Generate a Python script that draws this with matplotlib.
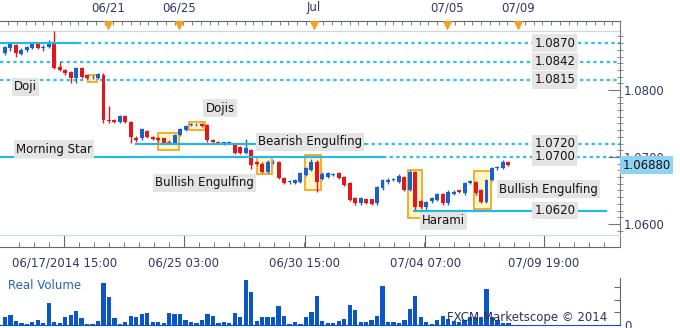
import numpy as np
import matplotlib.pyplot as plt
from matplotlib.patches import Rectangle
from matplotlib.ticker import MultipleLocator, FixedLocator, FuncFormatter
from matplotlib.transforms import blended_transform_factory

plt.rcParams["font.family"] = "DejaVu Sans"

# EUR/CHF-style 4H candles (oldest first)
opens = [
    1.0855, 1.0862, 1.0867, 1.0854, 1.0859, 1.0863, 1.0868, 1.0863, 1.0864, 1.0869,
    1.0834, 1.0830, 1.0827, 1.0818, 1.0833, 1.0822, 1.0819, 1.0818, 1.0823, 1.0755,
    1.0755, 1.0752, 1.0761, 1.0752, 1.0728, 1.0728, 1.0739, 1.0730, 1.0728, 1.0728,
    1.0723, 1.0721, 1.0733, 1.0740, 1.0748, 1.0749, 1.0749, 1.0748, 1.0725, 1.0723,
    1.0720, 1.0721, 1.0718, 1.0715, 1.0706, 1.0710, 1.0692, 1.0690, 1.0678, 1.0692,
    1.0693, 1.0669, 1.0662, 1.0661, 1.0663, 1.0673, 1.0681, 1.0693, 1.0667, 1.0670,
    1.0673, 1.0676, 1.0670, 1.0661, 1.0639, 1.0631, 1.0637, 1.0637, 1.0631, 1.0653,
    1.0662, 1.0666, 1.0663, 1.0670, 1.0651, 1.0678, 1.0634, 1.0625, 1.0634, 1.0636,
    1.0645, 1.0631, 1.0645, 1.0650, 1.0646, 1.0661, 1.0663, 1.0651, 1.0633, 1.0666,
    1.0683, 1.0684, 1.0693]
closes = [
    1.0864, 1.0868, 1.0855, 1.0860, 1.0864, 1.0868, 1.0863, 1.0864, 1.0870, 1.0833,
    1.0830, 1.0825, 1.0818, 1.0833, 1.0820, 1.0818, 1.0820, 1.0824, 1.0755, 1.0753,
    1.0752, 1.0761, 1.0752, 1.0730, 1.0725, 1.0742, 1.0730, 1.0727, 1.0725, 1.0721,
    1.0721, 1.0733, 1.0742, 1.0746, 1.0749, 1.0749, 1.0746, 1.0725, 1.0722, 1.0721,
    1.0722, 1.0723, 1.0706, 1.0706, 1.0713, 1.0688, 1.0690, 1.0678, 1.0693, 1.0693,
    1.0669, 1.0661, 1.0664, 1.0666, 1.0676, 1.0684, 1.0693, 1.0663, 1.0675, 1.0676,
    1.0674, 1.0669, 1.0658, 1.0636, 1.0631, 1.0639, 1.0632, 1.0630, 1.0655, 1.0666,
    1.0666, 1.0666, 1.0672, 1.0651, 1.0678, 1.0625, 1.0626, 1.0633, 1.0639, 1.0645,
    1.0631, 1.0648, 1.0648, 1.0648, 1.0661, 1.0664, 1.0646, 1.0633, 1.0666, 1.0684,
    1.0685, 1.0693, 1.0688]
highs = [
    1.0866, 1.0872, 1.0869, 1.0862, 1.0865, 1.0870, 1.0870, 1.0867, 1.0874, 1.0888,
    1.0842, 1.0831, 1.0828, 1.0834, 1.0834, 1.0823, 1.0822, 1.0825, 1.0826, 1.0776,
    1.0756, 1.0762, 1.0762, 1.0753, 1.0731, 1.0743, 1.0741, 1.0732, 1.0730, 1.0729,
    1.0725, 1.0734, 1.0743, 1.0748, 1.0751, 1.0751, 1.0750, 1.0749, 1.0727, 1.0724,
    1.0723, 1.0724, 1.0719, 1.0716, 1.0727, 1.0712, 1.0694, 1.0692, 1.0695, 1.0695,
    1.0694, 1.0670, 1.0665, 1.0667, 1.0677, 1.0685, 1.0697, 1.0695, 1.0677, 1.0678,
    1.0676, 1.0677, 1.0671, 1.0662, 1.0640, 1.0640, 1.0638, 1.0638, 1.0656, 1.0667,
    1.0668, 1.0668, 1.0674, 1.0671, 1.0680, 1.0679, 1.0636, 1.0635, 1.0641, 1.0647,
    1.0646, 1.0650, 1.0650, 1.0651, 1.0662, 1.0666, 1.0664, 1.0652, 1.0667, 1.0685,
    1.0687, 1.0695, 1.0694]
lows = [
    1.0852, 1.0858, 1.0849, 1.0852, 1.0857, 1.0861, 1.0861, 1.0858, 1.0862, 1.0831,
    1.0828, 1.0823, 1.0810, 1.0810, 1.0818, 1.0816, 1.0816, 1.0816, 1.0750, 1.0750,
    1.0750, 1.0750, 1.0750, 1.0721, 1.0723, 1.0726, 1.0728, 1.0725, 1.0723, 1.0719,
    1.0719, 1.0719, 1.0731, 1.0739, 1.0746, 1.0747, 1.0745, 1.0723, 1.0720, 1.0719,
    1.0718, 1.0719, 1.0704, 1.0704, 1.0704, 1.0682, 1.0688, 1.0676, 1.0676, 1.0690,
    1.0667, 1.0659, 1.0660, 1.0659, 1.0661, 1.0671, 1.0679, 1.0648, 1.0665, 1.0668,
    1.0671, 1.0667, 1.0656, 1.0634, 1.0629, 1.0629, 1.0630, 1.0628, 1.0629, 1.0651,
    1.0660, 1.0664, 1.0661, 1.0649, 1.0649, 1.0621, 1.0624, 1.0620, 1.0631, 1.0634,
    1.0629, 1.0629, 1.0643, 1.0646, 1.0644, 1.0659, 1.0644, 1.0631, 1.0631, 1.0664,
    1.0681, 1.0682, 1.0686]
volume = [
    8, 10, 4, 2, 1, 3, 5, 2, 22, 3,
    2, 8, 10, 14, 7, 1, 1, 4, 42, 28,
    7, 1, 3, 9, 8, 11, 12, 3, 3, 2,
    12, 11, 11, 5, 3, 2, 5, 11, 9, 2,
    3, 2, 12, 8, 45, 33, 4, 8, 8, 8,
    19, 9, 1, 3, 1, 8, 13, 29, 4, 2,
    2, 4, 6, 20, 15, 3, 3, 5, 9, 39,
    3, 3, 2, 5, 16, 29, 8, 3, 1, 5,
    9, 6, 4, 3, 5, 8, 8, 8, 36, 8,
    5, 2, 2]

last_price = 1.06880

# support / resistance levels
levels = [1.0870, 1.0842, 1.0815, 1.0720, 1.0700, 1.0620]
level_labels = ["1.0870", "1.0842", "1.0815", "1.0720", "1.0700", "1.0620"]
solid_from = [-0.9, None, None, 23.8, -0.9, 74.6]
solid_to = [13.3, None, None, 65.8, 69.1, 110.0]
dotted_from = [13.3, -0.9, -0.9, 65.8, 69.1, None]

# candle pattern boxes: first idx, last idx, low, high
box_i0 = [15.2, 28.0, 33.6, 46.1, 54.8, 73.7, 85.7]
box_i1 = [16.8, 31.8, 36.6, 48.8, 57.8, 76.2, 88.8]
box_lo = [1.0812, 1.0710, 1.0740, 1.0675, 1.0651, 1.0609, 1.0622]
box_hi = [1.0822, 1.0736, 1.0752, 1.0700, 1.0703, 1.0681, 1.0679]

pattern_names = ["Doji", "Morning Star", "Dojis", "Bearish Engulfing",
                 "Bullish Engulfing", "Harami", "Bullish Engulfing"]
pattern_x = [3.8, 9.0, 39.3, 55.8, 36.4, 80.1, 99.3]
pattern_y = [1.08045, 1.07119, 1.07731, 1.07224, 1.06612, 1.06045, 1.06522]

top_labels = ["06/21", "06/25", "Jul", "07/05", "07/09"]
top_pos = [18.8, 31.8, 56.5, 80.8, 93.8]
bot_labels = ["06/17/2014 15:00", "06/25 03:00", "06/30 15:00", "07/04 07:00", "07/09 19:00"]
bot_pos = [10.8, 32.7, 54.8, 76.8, 98.5]

BLUE = "#1c5fcf"
RED = "#e2161b"
CYAN = "#22b8ec"
NAVY = "#343468"

W, H = 680, 328
fig = plt.figure(figsize=(6.8, 3.28), dpi=100)


def rect(top, bottom):
    return [0, 1 - bottom / H, 620 / W, (bottom - top) / H]


ax_top = fig.add_axes(rect(21, 31))
ax = fig.add_axes(rect(31, 235))
ax_bot = fig.add_axes(rect(235, 247))
ax_vol = fig.add_axes(rect(278, 325))

for a in (ax_top, ax, ax_bot, ax_vol):
    a.set_xlim(-0.91, 112.4)
    a.set_facecolor("none")
    for s in a.spines.values():
        s.set_visible(False)

# ---- price panel
idx = np.arange(len(opens))
o = np.array(opens)
c = np.array(closes)
colors = np.where(c >= o, BLUE, RED)
ax.vlines(idx, lows, highs, colors=colors, lw=1, zorder=3)
ax.bar(idx, np.maximum(np.abs(c - o), 0.00008), bottom=np.minimum(o, c),
       width=0.72, color=colors, linewidth=0, zorder=4)

for i0, i1, lo, hi in zip(box_i0, box_i1, box_lo, box_hi):
    ax.add_patch(Rectangle((i0, lo), i1 - i0, hi - lo, facecolor="#fff6c6",
                           edgecolor="#f6a623", lw=1.3, zorder=2))

for lv, s0, s1, d0 in zip(levels, solid_from, solid_to, dotted_from):
    if s0 is not None:
        ax.hlines(lv, s0, s1, color=CYAN, lw=1.6, zorder=5)
    if d0 is not None:
        ax.hlines(lv, d0, 112.4, color="#27c3f2", lw=1.6, linestyles=(0, (1.5, 1.5)), zorder=1)

label_box = dict(boxstyle="square,pad=0.18", facecolor="#e4e4e4", edgecolor="none")
for lv, txt in zip(levels, level_labels):
    ax.text(100.5, lv, txt, ha="center", va="center", fontsize=8.5,
            color="#111111", bbox=label_box, zorder=6)
for txt, x, y in zip(pattern_names, pattern_x, pattern_y):
    ax.text(x, y, txt, ha="center", va="center", fontsize=8.5,
            color="#111111", bbox=label_box, zorder=6)

ax.set_ylim(1.058358, 1.088806)
ax.set_xticks([])
ax.yaxis.tick_right()
ax.spines["right"].set_visible(True)
ax.spines["right"].set_color("#777777")
ax.yaxis.set_major_locator(MultipleLocator(0.01))
ax.yaxis.set_minor_locator(MultipleLocator(0.001))
ax.yaxis.set_major_formatter(FuncFormatter(lambda v, p: f"{v:.4f}"))
ax.tick_params(axis="y", which="major", direction="in", length=9, color="#777777",
               labelsize=8.5, labelcolor=NAVY, pad=3)
ax.tick_params(axis="y", which="minor", direction="inout", length=4, color="#777777")

trans = blended_transform_factory(ax.transAxes, ax.transData)
ax.text(1.004, last_price, f"{last_price:.5f}", transform=trans, ha="left", va="center",
        fontsize=8.5, color="#111111", clip_on=False, zorder=10,
        bbox=dict(boxstyle="square,pad=0.22", facecolor="#8fd3f3", edgecolor="none"))

# ---- top date ruler
ax_top.set_ylim(0, 1)
ax_top.set_yticks([])
ax_top.spines["top"].set_visible(True)
ax_top.spines["top"].set_color("#666666")
ax_top.spines["bottom"].set_visible(True)
ax_top.spines["bottom"].set_color("#c9d8e6")
ax_top.spines["right"].set_visible(True)
ax_top.spines["right"].set_color("#777777")
ax_top.xaxis.tick_top()
ax_top.set_xticks(top_pos, labels=top_labels)
ax_top.xaxis.set_minor_locator(FixedLocator(np.arange(0.6, 112, 1.6)))
ax_top.tick_params(axis="x", which="major", direction="in", length=6, color="#666666",
                   labelsize=8.5, labelcolor=NAVY, pad=5)
ax_top.tick_params(axis="x", which="minor", direction="in", length=3, color="#666666")
ax_top.scatter(top_pos, [0.62] * len(top_pos), marker="v", s=28, color="#f6a21c",
               zorder=5, clip_on=False)

# ---- bottom time ruler
ax_bot.set_ylim(0, 1)
ax_bot.set_yticks([])
ax_bot.spines["bottom"].set_visible(True)
ax_bot.spines["bottom"].set_color("#666666")
ax_bot.spines["top"].set_visible(True)
ax_bot.spines["top"].set_color("#c9d8e6")
ax_bot.spines["right"].set_visible(True)
ax_bot.spines["right"].set_color("#777777")
ax_bot.set_xticks(bot_pos, labels=bot_labels)
ax_bot.xaxis.set_minor_locator(FixedLocator(np.arange(bot_pos[0] - 2.75 * 3, 112, 2.74)))
ax_bot.tick_params(axis="x", which="major", direction="in", length=8.6, color="#666666",
                   labelsize=8.5, labelcolor=NAVY, pad=7)
ax_bot.tick_params(axis="x", which="minor", direction="in", length=3.6, color="#666666")

# ---- volume panel
ax_vol.bar(idx, volume, width=0.78, color="#0a56c6", linewidth=0)
ax_vol.set_ylim(0, 47)
ax_vol.set_xticks([])
ax_vol.yaxis.tick_right()
ax_vol.spines["right"].set_visible(True)
ax_vol.spines["right"].set_color("#666666")
ax_vol.spines["bottom"].set_visible(True)
ax_vol.spines["bottom"].set_color("#0a56c6")
ax_vol.set_yticks([0, 12.7, 25.3, 38], labels=["0", "", "", ""])
ax_vol.tick_params(axis="y", direction="in", length=4, color="#666666",
                   labelsize=8.5, labelcolor=NAVY, pad=3)
ax_vol.text(0.013, 0.85, "Real Volume", transform=ax_vol.transAxes, ha="left",
            va="center", fontsize=8.5, color="#2163c4")
ax_vol.text(0.979, 0.15, "FXCM Marketscope \u00a9 2014", transform=ax_vol.transAxes,
            ha="right", va="center", fontsize=8.5, color="#2f2f55", zorder=5)

fig.savefig("out.png", dpi=100)
